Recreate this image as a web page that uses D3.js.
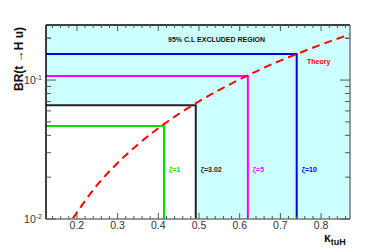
<!DOCTYPE html>
<html>
<head>
<meta charset="utf-8">
<script src="https://cdn.jsdelivr.net/npm/d3@7"></script>
<style>
  body { margin: 0; background: #fff; }
  svg { font-family: "Liberation Sans", Arial, sans-serif; }
</style>
</head>
<body>
<svg id="canvas" width="389" height="249"></svg>
<script>
        // limits for each zeta value: kappa and BR
        const zetaLabels = ["ζ=1", "ζ=3.02", "ζ=5", "ζ=10"];
        const zetaColors = ["#00e000", "#222222", "#ff00ff", "#0000ee"];
        const kappaLimits = [0.414, 0.492, 0.62, 0.74];
        const brLimits = [0.0467, 0.066, 0.107, 0.154];
        const observed = 1; // index of ζ=3.02, defines excluded region

        // theory curve
        const theoryKappa = [0.19, 0.25, 0.3, 0.35, 0.4, 0.45, 0.5, 0.55, 0.6, 0.65, 0.7, 0.75, 0.8, 0.87];
        const theoryBR = [0.0101, 0.0176, 0.0253, 0.0344, 0.045, 0.057, 0.0703, 0.085, 0.101, 0.119, 0.138, 0.158, 0.18, 0.213];

        const xTicks = [0.2, 0.3, 0.4, 0.5, 0.6, 0.7, 0.8];

        const svg = d3.select("#canvas");
        const pLeft = 46, pRight = 350, pTop = 25, pBottom = 219;

        const x = d3.scaleLinear().domain([0.124, 0.871]).range([pLeft, pRight]);
        const y = d3.scaleLog().domain([0.01, 0.249]).range([pBottom, pTop]);

        // excluded region
        svg.append("rect")
            .attr("x", pLeft).attr("y", pTop)
            .attr("width", pRight - pLeft).attr("height", pBottom - pTop)
            .attr("fill", "#ccffff");
        svg.append("rect")
            .attr("x", pLeft).attr("y", y(brLimits[observed]))
            .attr("width", x(kappaLimits[observed]) - pLeft)
            .attr("height", pBottom - y(brLimits[observed]))
            .attr("fill", "#fff");

        // limit lines
        zetaLabels.forEach((lab, i) => {
            const px = x(kappaLimits[i]), py = y(brLimits[i]);
            svg.append("path")
                .attr("d", `M${pLeft},${py}H${px}V${pBottom}`)
                .attr("fill", "none")
                .attr("stroke", zetaColors[i])
                .attr("stroke-width", 2);
            svg.append("text")
                .attr("x", px + 5).attr("y", 172)
                .attr("font-size", 7).attr("font-weight", "bold")
                .attr("fill", zetaColors[i])
                .text(lab);
        });

        // theory
        const theory = theoryKappa.map((k, i) => ({ k, br: theoryBR[i] }));
        svg.append("path")
            .datum(theory)
            .attr("fill", "none")
            .attr("stroke", "#ff0000")
            .attr("stroke-width", 2)
            .attr("stroke-dasharray", "8,5")
            .attr("d", d3.line().curve(d3.curveMonotoneX).x(d => x(d.k)).y(d => y(d.br)));

        svg.append("text")
            .attr("x", 307).attr("y", 64)
            .attr("font-size", 7).attr("font-weight", "bold")
            .attr("fill", "#ff0000")
            .text("Theory");

        svg.append("text")
            .attr("x", 168).attr("y", 42)
            .attr("font-size", 7).attr("font-weight", "bold")
            .attr("fill", "#111")
            .text("95% C.L EXCLUDED REGION");

        // frame
        svg.append("line").attr("x1", pLeft).attr("y1", pTop).attr("x2", pRight).attr("y2", pTop)
            .attr("stroke", "#000").attr("stroke-width", 1.5);
        svg.append("line").attr("x1", pLeft).attr("y1", pTop).attr("x2", pLeft).attr("y2", pBottom)
            .attr("stroke", "#000").attr("stroke-width", 1.5);
        svg.append("line").attr("x1", pLeft).attr("y1", pBottom).attr("x2", pRight).attr("y2", pBottom)
            .attr("stroke", "#777").attr("stroke-width", 1.5);
        svg.append("line").attr("x1", pRight).attr("y1", pTop).attr("x2", pRight).attr("y2", pBottom)
            .attr("stroke", "#777").attr("stroke-width", 1.5);

        // x ticks
        const ticks = svg.append("g").attr("stroke", "#555").attr("stroke-width", 1);
        const minorX = d3.range(0.14, 0.87, 0.02);
        minorX.forEach(v => {
            const major = Math.abs(v * 10 - Math.round(v * 10)) < 1e-6;
            const len = major ? 6 : 3;
            ticks.append("line").attr("x1", x(v)).attr("x2", x(v)).attr("y1", pBottom).attr("y2", pBottom - len);
            ticks.append("line").attr("x1", x(v)).attr("x2", x(v)).attr("y1", pTop).attr("y2", pTop + len);
        });
        xTicks.forEach(v => {
            svg.append("text")
                .attr("x", x(v)).attr("y", 229)
                .attr("text-anchor", "middle")
                .attr("font-size", 10.5).attr("fill", "#333")
                .text(v.toFixed(1));
        });

        // y ticks
        const yt = [];
        for (let e = -2; e <= -1; e++) {
            for (let m = 1; m <= 9; m++) {
                const v = m * Math.pow(10, e);
                if (v <= 0.249) yt.push({ v, major: m === 1 });
            }
        }
        yt.push({ v: 0.2, major: false });
        yt.forEach(t => {
            const len = t.major ? 10 : 5;
            ticks.append("line").attr("x1", pLeft).attr("x2", pLeft + len).attr("y1", y(t.v)).attr("y2", y(t.v));
            ticks.append("line").attr("x1", pRight).attr("x2", pRight - len).attr("y1", y(t.v)).attr("y2", y(t.v));
        });
        [0.01, 0.1].forEach((v, i) => {
            const t = svg.append("text")
                .attr("x", 42).attr("y", y(v) + 4)
                .attr("text-anchor", "end")
                .attr("font-size", 10.5).attr("fill", "#333");
            t.append("tspan").text("10");
            t.append("tspan").attr("font-size", 7).attr("dy", -4).text(i === 0 ? "-2" : "-1");
        });

        // axis titles
        svg.append("text")
            .attr("transform", "translate(23,59) rotate(-90)")
            .attr("text-anchor", "middle")
            .attr("font-size", 12).attr("font-weight", "bold")
            .attr("fill", "#111")
            .text("BR(t \u2192H u)");

        const xt = svg.append("text")
            .attr("x", 324).attr("y", 242)
            .attr("font-size", 12).attr("font-weight", "bold")
            .attr("fill", "#111");
        xt.append("tspan").text("\u03ba");
        xt.append("tspan").attr("font-size", 9).attr("dy", 3).text("tuH");
</script>
</body>
</html>
